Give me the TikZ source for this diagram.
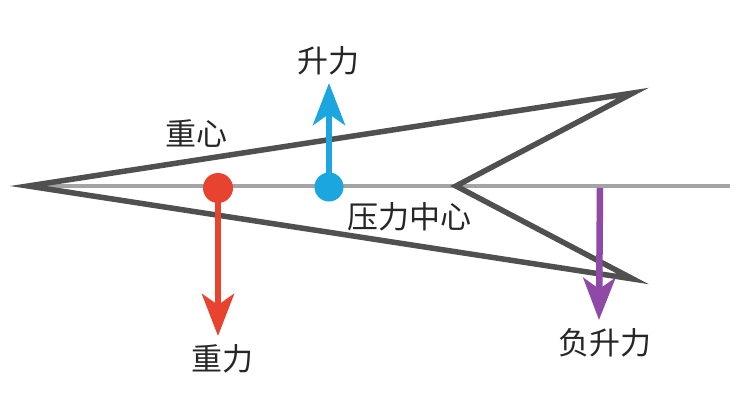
\documentclass[tikz,border=0pt]{standalone}
\usepackage{fontspec}
\newfontfamily\cjk{Noto Sans CJK SC}
\usetikzlibrary{arrows.meta}
\definecolor{outline}{HTML}{505050}
\definecolor{axisgray}{HTML}{A4A4A4}
\definecolor{redc}{HTML}{E8432E}
\definecolor{bluec}{HTML}{1BA6E0}
\definecolor{purplec}{HTML}{8E4AA6}
\tikzset{
  lbl/.style={font=\cjk\fontsize{31}{36}\selectfont, text=black!85, inner sep=0pt},
  force/.style={line width=6.5pt, -{Stealth[length=42pt, width=32pt, inset=11pt]}},
  dot/.style={circle, inner sep=0pt, minimum size=30pt},
}
\begin{document}
\begin{tikzpicture}[x=1pt, y=-1pt]
\useasboundingbox (0,0) rectangle (745,407);
% axis
\coordinate (axL) at (33,186);
\coordinate (axR) at (730,186);
\draw[axisgray, line width=4pt] (axL) -- (axR);
% outline
\coordinate (nose) at (28,186);
\coordinate (tailU) at (633,93);
\coordinate (notch) at (456,186);
\coordinate (tailL) at (633,279);
\draw[outline, line width=5.5pt, line join=miter, miter limit=20] (nose) -- (tailU) -- (notch) -- (tailL) -- cycle;
% gravity
\node[dot, fill=redc] (cg) at (218,188) {};
\coordinate (cgEnd) at (218,336);
\draw[force, redc] (cg.center) -- (cgEnd);
% lift
\node[dot, fill=bluec, minimum size=29pt] (cp) at (329,187) {};
\coordinate (cpEnd) at (329,83);
\draw[force, bluec] (cp.center) -- (cpEnd);
% negative lift
\coordinate (nlStart) at (600,188);
\coordinate (nlEnd) at (599,320);
\draw[force, purplec] (nlStart) -- (nlEnd);
% labels
\node[lbl] (lift) at (328,61) {升力};
\node[lbl] (cgl) at (196,134) {重心};
\node[lbl] (cpl) at (409,217) {压力中心};
\node[lbl] (grav) at (222,359) {重力};
\node[lbl] (neg) at (605,343) {负升力};
\end{tikzpicture}
\end{document}
